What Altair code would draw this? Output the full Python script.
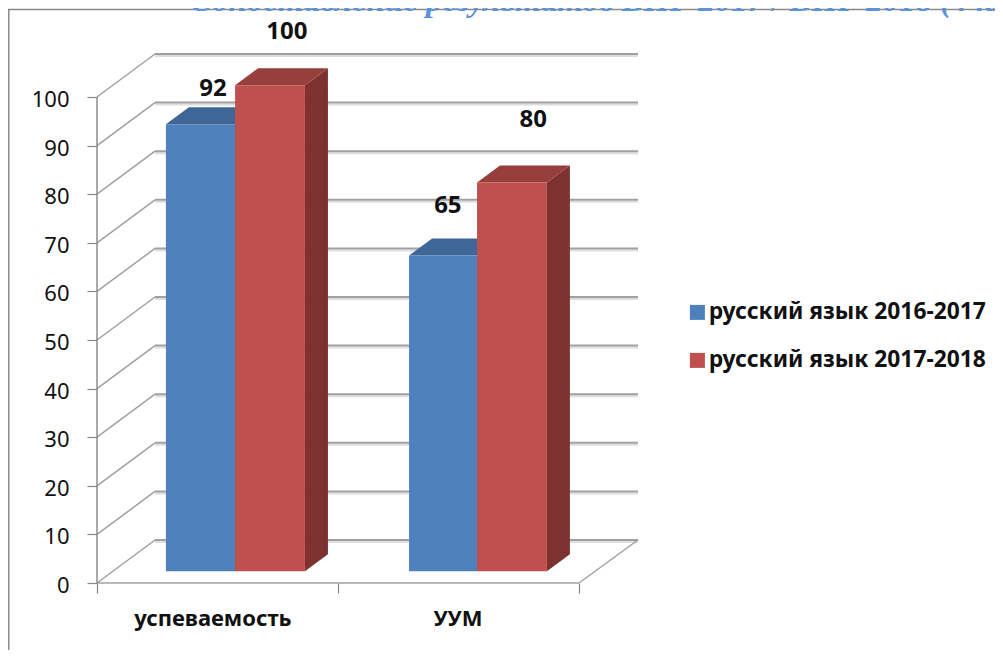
import altair as alt
import pandas as pd

categories = ["успеваемость", "УУМ"]
series = ["русский язык 2016-2017", "русский язык 2017-2018"]
values_2016 = [92, 65]
values_2017 = [100, 80]
y_ticks = list(range(0, 101, 10))
title_text = "Сопоставление результатов ВПР 2017 / ВПР 2018 (4 класс)"

FRONT = ["#4f81bd", "#c0504d"]
TOP = ["#3e6697", "#963f3c"]
SIDE = ["#39597f", "#7d3230"]
GRID = "#a0a0a0"
SHADOW = "#dedede"

W, H = 541, 529
X_MAX, Y_MAX = 2.245, 108.85
DEPTH_X, DEPTH_Y = 0.2407, 8.85
BAR_BASE = 2.4
BAR_DX, BAR_DY = 0.0954, 3.5
bar_left = [[0.286, 1.295], [0.573, 1.577]]
bar_right = [[0.573, 1.577], [0.863, 1.867]]
label_x = [[0.481, 1.456], [0.788, 1.81]]
label_lift = [[9.7, 12.6], [13.4, 15.3]]

x_scale = alt.Scale(domain=[0, X_MAX], nice=False, zero=False)
y_scale = alt.Scale(domain=[0, Y_MAX], nice=False, zero=False)
X = lambda f: alt.X(f, type="quantitative", scale=x_scale)
Y = lambda f: alt.Y(f, type="quantitative", scale=y_scale)
FONT = "Noto Sans"

all_values = [values_2016, values_2017]

front_rows, side_rows, top_rows, label_rows = [], [], [], []
for s, vals in enumerate(all_values):
    for c, v in enumerate(vals):
        l, r = bar_left[s][c], bar_right[s][c]
        t = BAR_BASE + v
        front_rows.append(dict(series=series[s], x=l, x2=r, y=BAR_BASE, y2=t))
        side_rows += [
            dict(s=s, c=c, x=r, y=BAR_BASE, y2=t),
            dict(s=s, c=c, x=r + BAR_DX, y=BAR_BASE + BAR_DY, y2=t + BAR_DY),
        ]
        top_rows += [
            dict(s=s, c=c, x=l, x2=r, y=t),
            dict(s=s, c=c, x=l + BAR_DX, x2=r + BAR_DX, y=t + BAR_DY),
        ]
        label_rows.append(dict(x=label_x[s][c], y=v + label_lift[s][c], t=str(v)))

grid_df = pd.DataFrame([dict(x=DEPTH_X, x2=X_MAX, y=v + DEPTH_Y) for v in y_ticks])
diag_rows = []
for v in y_ticks:
    diag_rows += [dict(k=v, x=0, y=v), dict(k=v, x=DEPTH_X, y=v + DEPTH_Y)]
diag_rows += [dict(k=-1, x=2.0, y=0), dict(k=-1, x=X_MAX, y=DEPTH_Y)]
diag_df = pd.DataFrame(diag_rows)

layers = []
# floor front / axes with ticks
layers.append(alt.Chart(pd.DataFrame({"x": [0], "x2": [2.0], "y": [0]})).mark_rule(color=GRID, strokeWidth=1.5).encode(
    x=alt.X("x:Q", scale=x_scale, axis=alt.Axis(values=[0, 1, 2], labels=False, title=None, domain=False, grid=False,
                                                 tickColor="#868686", tickSize=10, tickWidth=1.2)),
    x2="x2:Q",
    y=alt.Y("y:Q", scale=y_scale, axis=alt.Axis(values=y_ticks, title=None, domain=False, grid=False,
                                                 tickColor="#868686", tickSize=10, tickWidth=1.2, labelFont=FONT,
                                                 labelFontSize=22, labelColor="#111111", labelPadding=18,
                                                 labelOffset=2.5))))
# frame
layers.append(alt.Chart(pd.DataFrame({"a": [0]})).mark_rule(color="#8a8a8a", strokeWidth=1.5).encode(
    x=alt.value(-88.2), y=alt.value(-44.5), y2=alt.value(610)))
layers.append(alt.Chart(pd.DataFrame({"a": [0]})).mark_rule(color="#8a8a8a", strokeWidth=1.5).encode(
    x=alt.value(-89), x2=alt.value(910), y=alt.value(-44.5)))
# title (cut by the top of the page)
layers.append(alt.Chart(pd.DataFrame({"x": [0.385], "y": [117.7], "t": [title_text]})).mark_text(
    align="left", baseline="alphabetic", font="Liberation Serif", fontSize=33, fontWeight="bold",
    fontStyle="italic", color="#5b93d6").encode(x=X("x"), y=Y("y"), text="t:N"))

# back wall
layers.append(alt.Chart(grid_df).mark_rule(color=SHADOW, strokeWidth=2).encode(
    x=X("x"), x2="x2:Q", y=Y("y"), yOffset=alt.value(2)))
layers.append(alt.Chart(grid_df).mark_rule(color=GRID, strokeWidth=2).encode(
    x=X("x"), x2="x2:Q", y=Y("y")))
layers.append(alt.Chart(diag_df).mark_line(color=GRID, strokeWidth=1.5).encode(
    x=X("x"), y=Y("y"), detail="k:N"))
layers.append(alt.Chart(pd.DataFrame({"x": [0], "y": [0], "y2": [100]})).mark_rule(color="#8c8c8c", strokeWidth=1.5).encode(
    x=X("x"), y=Y("y"), y2="y2:Q"))

# bars
for s in range(2):
    df_side = pd.DataFrame([r for r in side_rows if r["s"] == s])
    df_top = pd.DataFrame([r for r in top_rows if r["s"] == s])
    layers.append(alt.Chart(df_side).mark_area(color=SIDE[s], opacity=1).encode(
        x=X("x"), y=Y("y"), y2="y2:Q", detail="c:N"))
    layers.append(alt.Chart(df_top).mark_area(color=TOP[s], opacity=1, orient="horizontal").encode(
        y=Y("y"), x=X("x"), x2="x2:Q", detail="c:N"))

layers.append(alt.Chart(pd.DataFrame(front_rows)).mark_rect().encode(
    x=X("x"), x2="x2:Q", y=Y("y"), y2="y2:Q",
    color=alt.Color("series:N", scale=alt.Scale(domain=series, range=FRONT), legend=alt.Legend(
        title=None, orient="none", legendX=589, legendY=247, symbolType="square", symbolSize=225,
        symbolStrokeWidth=0, symbolOpacity=1, labelFont=FONT, labelFontSize=22.8, labelFontWeight="bold",
        labelColor="#111111", rowPadding=24, labelOffset=0, labelLimit=400, symbolOffset=0, padding=0))))

# data labels
layers.append(alt.Chart(pd.DataFrame(label_rows)).mark_text(font=FONT, fontSize=24, fontWeight="bold", color="#111111").encode(
    x=X("x"), y=Y("y"), text="t:N"))

# category labels
cat_df = pd.DataFrame({"x": [0.481, 1.498], "y": [-7.4, -7.4], "t": categories})
layers.append(alt.Chart(cat_df).mark_text(font=FONT, fontSize=22, fontWeight="bold", color="#111111").encode(
    x=X("x"), y=Y("y"), text="t:N"))

chart = alt.layer(*layers).properties(
    width=W, height=H,
    autosize=alt.AutoSizeParams(type="none"),
    padding={"left": 89, "top": 46, "right": 357, "bottom": 67},
).configure_view(stroke=None)

chart.save("out.html", embed_options={"renderer": "svg", "actions": False})
